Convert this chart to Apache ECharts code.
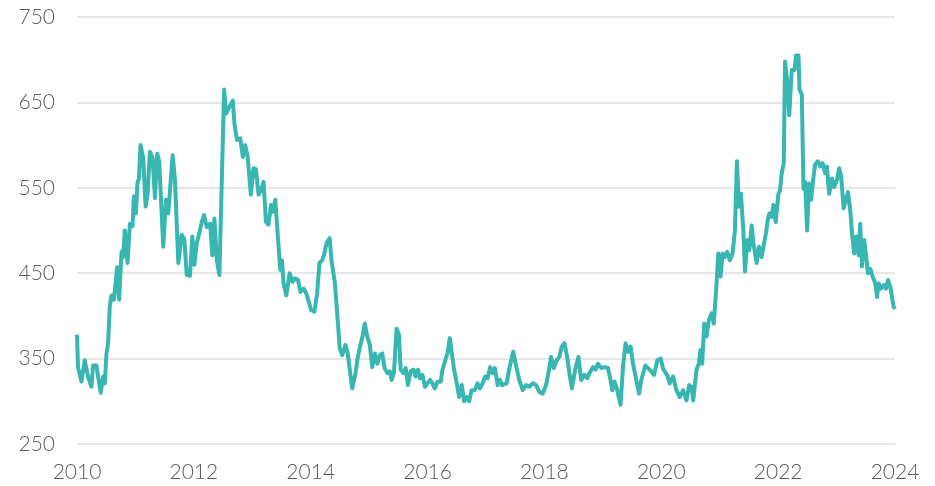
<!DOCTYPE html>
<html>
<head>
<meta charset="utf-8">
<script src="https://cdn.jsdelivr.net/npm/echarts@6/dist/echarts.min.js"></script>
<style>
  html, body { margin: 0; padding: 0; background: #fff; }
  #chart { width: 935px; height: 486px; }
</style>
</head>
<body>
<div id="chart"></div>
<script>
// decimal year of each reading
const years = [
  2010.000, 2010.017, 2010.076, 2010.132, 2010.189, 2010.247, 2010.275, 2010.333, 2010.360, 2010.407,
  2010.446, 2010.475, 2010.505, 2010.532, 2010.561, 2010.590, 2010.630, 2010.664, 2010.687, 2010.721,
  2010.762, 2010.790, 2010.819, 2010.865, 2010.905, 2010.951, 2010.973, 2011.008, 2011.037, 2011.059,
  2011.088, 2011.133, 2011.174, 2011.208, 2011.248, 2011.294, 2011.334, 2011.373, 2011.407, 2011.476,
  2011.522, 2011.562, 2011.637, 2011.677, 2011.734, 2011.792, 2011.837, 2011.878, 2011.934, 2011.974,
  2012.008, 2012.049, 2012.094, 2012.135, 2012.175, 2012.221, 2012.278, 2012.317, 2012.352, 2012.393,
  2012.437, 2012.518, 2012.552, 2012.609, 2012.667, 2012.695, 2012.736, 2012.793, 2012.839, 2012.878,
  2012.918, 2012.976, 2013.021, 2013.062, 2013.107, 2013.148, 2013.193, 2013.234, 2013.278, 2013.320,
  2013.354, 2013.393, 2013.440, 2013.479, 2013.508, 2013.536, 2013.582, 2013.639, 2013.690, 2013.737,
  2013.783, 2013.823, 2013.879, 2013.926, 2013.965, 2014.006, 2014.063, 2014.109, 2014.149, 2014.195,
  2014.234, 2014.269, 2014.325, 2014.355, 2014.411, 2014.440, 2014.497, 2014.538, 2014.595, 2014.634,
  2014.710, 2014.767, 2014.806, 2014.852, 2014.892, 2014.926, 2014.967, 2015.012, 2015.053, 2015.098,
  2015.139, 2015.184, 2015.225, 2015.264, 2015.311, 2015.355, 2015.384, 2015.424, 2015.470, 2015.510,
  2015.539, 2015.585, 2015.625, 2015.664, 2015.711, 2015.757, 2015.796, 2015.836, 2015.870, 2015.911,
  2015.956, 2015.997, 2016.042, 2016.083, 2016.123, 2016.169, 2016.225, 2016.255, 2016.294, 2016.340,
  2016.380, 2016.414, 2016.454, 2016.500, 2016.540, 2016.586, 2016.626, 2016.672, 2016.711, 2016.752,
  2016.809, 2016.855, 2016.895, 2016.941, 2016.986, 2017.027, 2017.072, 2017.113, 2017.152, 2017.199,
  2017.238, 2017.273, 2017.312, 2017.353, 2017.398, 2017.466, 2017.513, 2017.569, 2017.628, 2017.684,
  2017.741, 2017.800, 2017.856, 2017.913, 2017.971, 2018.028, 2018.074, 2018.114, 2018.160, 2018.211,
  2018.256, 2018.297, 2018.342, 2018.388, 2018.428, 2018.469, 2018.526, 2018.582, 2018.629, 2018.685,
  2018.732, 2018.771, 2018.830, 2018.874, 2018.915, 2018.972, 2019.028, 2019.087, 2019.131, 2019.161,
  2019.200, 2019.246, 2019.303, 2019.344, 2019.389, 2019.430, 2019.475, 2019.516, 2019.561, 2019.619,
  2019.658, 2019.727, 2019.801, 2019.877, 2019.933, 2019.990, 2020.031, 2020.105, 2020.144, 2020.202,
  2020.259, 2020.316, 2020.374, 2020.431, 2020.477, 2020.517, 2020.546, 2020.603, 2020.642, 2020.671,
  2020.700, 2020.735, 2020.774, 2020.814, 2020.860, 2020.899, 2020.946, 2020.975, 2021.014, 2021.049,
  2021.088, 2021.129, 2021.174, 2021.220, 2021.260, 2021.294, 2021.329, 2021.363, 2021.404, 2021.432,
  2021.473, 2021.507, 2021.547, 2021.576, 2021.632, 2021.672, 2021.718, 2021.758, 2021.792, 2021.821,
  2021.850, 2021.890, 2021.919, 2021.958, 2022.005, 2022.032, 2022.061, 2022.096, 2022.118, 2022.153,
  2022.190, 2022.233, 2022.280, 2022.307, 2022.348, 2022.366, 2022.405, 2022.434, 2022.462, 2022.496,
  2022.530, 2022.564, 2022.605, 2022.633, 2022.679, 2022.719, 2022.760, 2022.805, 2022.834, 2022.873,
  2022.920, 2022.959, 2023.006, 2023.045, 2023.079, 2023.121, 2023.160, 2023.194, 2023.234, 2023.263,
  2023.302, 2023.337, 2023.378, 2023.405, 2023.434, 2023.474, 2023.508, 2023.537, 2023.577, 2023.618,
  2023.663, 2023.692, 2023.721, 2023.761, 2023.807, 2023.846, 2023.881, 2023.920, 2023.949, 2023.975,
  2024.000
];

const prices = [
  378, 340, 323, 348, 329, 317, 342, 342, 329, 310,
  329, 321, 356, 368, 411, 424, 419, 440, 457, 419,
  475, 469, 500, 462, 508, 505, 540, 520, 557, 560,
  600, 585, 528, 543, 592, 585, 538, 590, 581, 481,
  536, 520, 588, 559, 462, 495, 490, 448, 447, 493,
  460, 485, 497, 510, 518, 504, 508, 471, 514, 465,
  448, 665, 637, 645, 652, 625, 606, 608, 586, 600,
  588, 542, 573, 572, 542, 547, 557, 510, 507, 530,
  522, 536, 491, 454, 465, 438, 424, 450, 440, 444,
  442, 428, 432, 426, 417, 407, 405, 426, 462, 465,
  473, 485, 491, 465, 440, 415, 362, 354, 366, 356,
  315, 333, 352, 366, 378, 391, 376, 366, 340, 356,
  344, 354, 356, 339, 333, 335, 325, 333, 385, 378,
  337, 333, 339, 319, 335, 337, 329, 337, 327, 331,
  317, 321, 325, 321, 315, 323, 323, 337, 346, 356,
  374, 376, 337, 321, 305, 319, 300, 305, 300, 313,
  313, 321, 315, 321, 329, 327, 340, 333, 339, 319,
  325, 319, 320, 321, 338, 358, 342, 325, 313, 319,
  317, 321, 319, 311, 309, 319, 335, 352, 339, 348,
  352, 364, 368, 352, 333, 315, 337, 352, 325, 331,
  327, 333, 340, 337, 344, 339, 340, 339, 325, 313,
  323, 313, 296, 340, 368, 358, 364, 344, 329, 309,
  325, 342, 337, 331, 348, 350, 338, 330, 321, 329,
  313, 305, 313, 301, 319, 317, 301, 337, 344, 360,
  344, 391, 376, 395, 403, 391, 438, 473, 446, 473,
  469, 475, 465, 473, 500, 581, 528, 543, 500, 452,
  489, 477, 506, 485, 462, 481, 469, 485, 497, 512,
  520, 516, 530, 510, 543, 547, 567, 579, 698, 676,
  635, 688, 688, 705, 705, 665, 659, 549, 557, 500,
  555, 536, 563, 577, 581, 575, 579, 567, 575, 543,
  561, 551, 559, 573, 563, 526, 536, 545, 524, 497,
  473, 493, 471, 508, 458, 489, 487, 450, 455, 446,
  438, 422, 438, 432, 436, 432, 442, 434, 422, 411,
  408
];

const yTicks = [250, 350, 450, 550, 650, 750];
const xTicks = [2010, 2012, 2014, 2016, 2018, 2020, 2022, 2024];

const labelFont = {
  color: '#5a5a5a',
  fontSize: 21,
  fontFamily: 'Lato',
  fontWeight: 300
};

const chart = echarts.init(document.getElementById('chart'));
chart.setOption({
  animation: false,
  grid: { left: 77, right: 40, top: 17, bottom: 42 },
  xAxis: {
    type: 'value',
    min: xTicks[0],
    max: xTicks[xTicks.length - 1],
    interval: 2,
    axisLine: { show: false },
    axisTick: { show: false },
    splitLine: { show: false },
    axisLabel: Object.assign({ margin: 18, formatter: v => String(v) }, labelFont)
  },
  yAxis: {
    type: 'value',
    min: yTicks[0],
    max: yTicks[yTicks.length - 1],
    interval: 100,
    axisLine: { show: false },
    axisTick: { show: false },
    splitLine: { lineStyle: { color: '#dedede', width: 1.5 } },
    axisLabel: Object.assign({ margin: 22 }, labelFont)
  },
  series: [{
    type: 'line',
    data: years.map((y, i) => [y, prices[i]]),
    showSymbol: false,
    lineStyle: { color: '#37b6b2', width: 4, join: 'round' },
    itemStyle: { color: '#37b6b2' }
  }]
});
</script>
</body>
</html>
